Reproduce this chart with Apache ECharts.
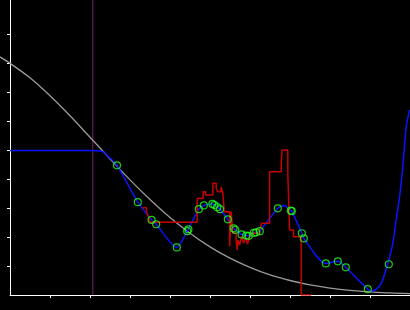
<!DOCTYPE html>
<html><head><meta charset="utf-8">
<script src="https://cdn.jsdelivr.net/npm/echarts@6/dist/echarts.min.js"></script>
<style>html,body{margin:0;padding:0;background:#000}#c{width:410px;height:310px}</style>
</head><body><div id="c"></div>
<script>
// Axis ticks (data units)
const xTicks = [1,2,3,4,5,6,7,8,9];
const yTicks = [1,2,3,4,5,6,7,8,9];
const xMin = 0, xMax = 10;
const yMin = 0, yMax = 10.172;
const xMinWide = -0.25; // gray curve continues left of the y axis
const cutX = 2.07; // vertical reference line

// Gray reference curve
const grayX = [-0.25, 0, 0.5, 1, 1.5, 2, 2.5, 3, 3.5, 4, 4.5, 5, 5.5, 6, 6.5, 7, 7.5, 8, 8.5, 9, 9.5, 10];
const grayY = [8.21, 7.99, 7.49, 6.87, 6.18, 5.44, 4.70, 3.97, 3.29, 2.67, 2.13, 1.66, 1.27, 0.95, 0.69, 0.50, 0.35, 0.24, 0.16, 0.11, 0.07, 0.05];

// Blue fitted curve
const blueX = [0, 2.01, 2.31, 2.39, 2.675, 3.195, 3.54, 3.655, 4.17, 4.44, 4.72, 4.845, 5.06, 5.12, 5.19, 5.25, 5.445, 5.59, 5.63, 5.79, 5.905, 5.97, 6.095, 6.155, 6.245, 6.695, 6.86, 7.02, 7.045, 7.295, 7.345, 7.895, 8.195, 8.395, 8.945, 9.07, 9.28, 9.47, 9.57, 9.655, 9.74, 9.82, 9.905, 9.99];
const blueY = [4.98, 4.98, 4.95, 4.86, 4.47, 3.20, 2.59, 2.44, 1.64, 2.24, 2.96, 3.09, 3.14, 3.10, 3.02, 2.96, 2.61, 2.30, 2.25, 2.09, 2.05, 2.04, 2.14, 2.16, 2.20, 2.99, 3.09, 2.91, 2.89, 2.13, 1.95, 1.09, 1.16, 0.955, 0.20, 0.14, 0.40, 1.21, 1.78, 2.59, 3.39, 4.42, 5.80, 6.38];

// Red step series
const redX = [3.31, 3.41, 3.46, 3.50, 4.68, 4.83, 4.89, 5.07, 5.155, 5.195, 5.28, 5.32, 5.36, 5.49, 5.53, 5.57, 5.655, 5.68, 5.695, 5.74, 5.79, 5.84, 5.89, 5.94, 5.99, 6.04, 6.24, 6.29, 6.49, 6.78, 6.805, 6.945, 6.99, 7.09, 7.28, 7.53];
const redY = [3.01, 2.90, 2.70, 2.51, 3.33, 3.56, 3.45, 3.85, 3.68, 3.56, 3.73, 3.51, 2.87, 1.67, 2.87, 2.13, 1.90, 1.55, 1.90, 1.72, 2.03, 1.79, 1.97, 1.76, 2.00, 2.13, 2.24, 2.47, 4.25, 4.60, 5.00, 4.20, 2.24, 2.01, 0, 0];

// Green sample points
const ptX = [2.675, 3.195, 3.54, 3.655, 4.17, 4.43, 4.46, 4.72, 4.845, 5.06, 5.11, 5.18, 5.25, 5.445, 5.59, 5.63, 5.79, 5.905, 5.97, 6.095, 6.155, 6.245, 6.695, 7.02, 7.045, 7.295, 7.345, 7.895, 8.195, 8.395, 8.945, 9.47];
const ptY = [4.47, 3.20, 2.59, 2.44, 1.64, 2.20, 2.26, 2.96, 3.09, 3.14, 3.10, 3.03, 2.96, 2.61, 2.30, 2.25, 2.09, 2.05, 2.04, 2.14, 2.16, 2.20, 2.99, 2.91, 2.89, 2.13, 1.95, 1.09, 1.16, 0.955, 0.20, 1.06];

const zip = (a, b) => a.map((v, i) => [v, b[i]]);

const chart = echarts.init(document.getElementById('c'), null, {renderer: 'canvas'});
const axisCommon = {
  type: 'value',
  splitLine: {show: false},
  axisLabel: {show: false},
  axisLine: {show: true, onZero: false, lineStyle: {color: '#ffffff', width: 1}},
  axisTick: {show: true, inside: false, length: 3, lineStyle: {color: '#ffffff', width: 1}}
};
const hiddenAxis = {type: 'value', show: false, splitLine: {show: false}};
chart.setOption({
  backgroundColor: '#000000',
  animation: false,
  grid: [
    {left: 10, right: 0, top: 0, bottom: 15, containLabel: false},
    {left: 0, right: 0, top: 0, bottom: 15, containLabel: false}
  ],
  xAxis: [
    Object.assign({}, axisCommon, {gridIndex: 0, min: xMin, max: xMax, interval: 1,
      axisTick: Object.assign({}, axisCommon.axisTick, {customValues: xTicks})}),
    Object.assign({}, hiddenAxis, {gridIndex: 1, min: xMinWide, max: xMax})
  ],
  yAxis: [
    Object.assign({}, axisCommon, {gridIndex: 0, min: yMin, max: yMax, interval: 1,
      axisTick: Object.assign({}, axisCommon.axisTick, {customValues: yTicks})}),
    Object.assign({}, hiddenAxis, {gridIndex: 1, min: yMin, max: yMax})
  ],
  series: [
    {type: 'line', data: [[cutX, yMin], [cutX, yMax]], symbol: 'none',
     lineStyle: {color: '#7a1f72', width: 1}, z: 1, silent: true},
    {type: 'line', xAxisIndex: 1, yAxisIndex: 1, data: zip(grayX, grayY), symbol: 'none', smooth: 0.3,
     lineStyle: {color: '#9a9a9a', width: 1.3}, z: 2},
    {type: 'line', data: zip(blueX, blueY), symbol: 'none', smooth: 0.25,
     lineStyle: {color: '#0a14ff', width: 1.5}, z: 3},
    {type: 'line', data: zip(redX, redY), symbol: 'none', step: 'end',
     lineStyle: {color: '#c80000', width: 1.5}, z: 4},
    {type: 'scatter', data: zip(ptX, ptY), symbol: 'circle', symbolSize: 7,
     itemStyle: {color: 'rgba(0,0,0,0)', borderColor: '#22ff22', borderWidth: 1.2}, z: 5}
  ]
});
</script></body></html>
